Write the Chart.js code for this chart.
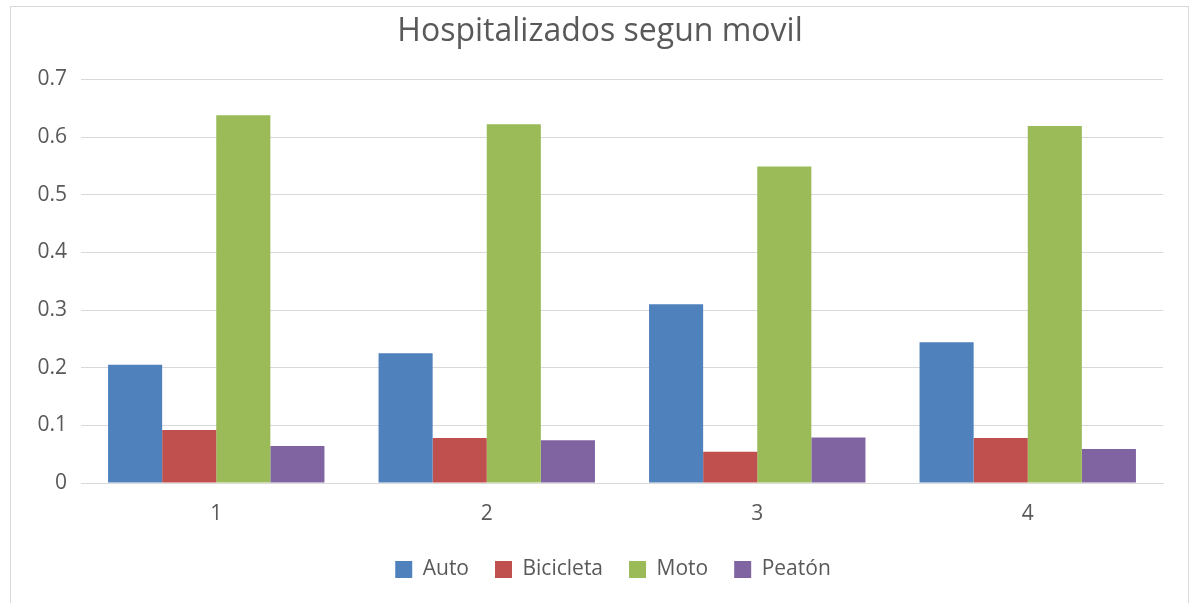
<!DOCTYPE html>
<html>
<head>
<meta charset="utf-8">
<script src="https://cdn.jsdelivr.net/npm/chart.js@4.4.1/dist/chart.umd.min.js"></script>
<style>
    html, body { margin: 0; padding: 0; background: #ffffff; overflow: hidden; }
    .frame {
        position: absolute; left: 10px; top: 6px;
        width: 1177px; height: 640px;
        border: 1px solid #d9d9d9;
    }
    #hospChart { position: absolute; left: 0; top: 0; }
</style>
</head>
<body>
<div class="frame"></div>
<canvas id="hospChart" width="1191" height="603"></canvas>
<script>
// Chart data
const categories = ['1', '2', '3', '4'];
const seriesNames = ['Auto', 'Bicicleta', 'Moto', 'Peatón'];
const autoValues = [0.205, 0.225, 0.31, 0.244];
const bicicletaValues = [0.092, 0.078, 0.054, 0.078];
const motoValues = [0.638, 0.622, 0.549, 0.619];
const peatonValues = [0.064, 0.074, 0.079, 0.059];
const yTicks = [0, 0.1, 0.2, 0.3, 0.4, 0.5, 0.6, 0.7];

const seriesColors = ['#4F81BD', '#C0504D', '#9BBB59', '#8064A2'];
const textColor = '#595959';
const fontFamily = '"Open Sans", "Noto Sans", sans-serif';

// nudge the legend a bit to the right, like the original
const legendShift = {
    id: 'legendShift',
    afterLayout(chart) {
        chart.legend.left += 13;
        chart.legend.right += 13;
    }
};

function initChart() {
    const ctx = document.getElementById('hospChart').getContext('2d');
    const values = [autoValues, bicicletaValues, motoValues, peatonValues];

    new Chart(ctx, {
        type: 'bar',
        data: {
            labels: categories,
            datasets: seriesNames.map((name, i) => ({
                label: name,
                data: values[i],
                backgroundColor: seriesColors[i],
                borderWidth: 0,
                categoryPercentage: 0.8,
                barPercentage: 1.0
            }))
        },
        options: {
            responsive: false,
            animation: false,
            layout: {
                padding: { left: 37, right: 28, top: 13, bottom: 13 }
            },
            plugins: {
                title: {
                    display: true,
                    text: 'Hospitalizados segun movil',
                    color: textColor,
                    font: { family: fontFamily, size: 32, weight: 'normal' },
                    padding: { top: 0, bottom: 28 }
                },
                legend: {
                    position: 'bottom',
                    labels: {
                        color: textColor,
                        font: { family: fontFamily, size: 21 },
                        boxWidth: 17,
                        boxHeight: 17,
                        padding: 26
                    }
                },
                tooltip: { enabled: false }
            },
            scales: {
                x: {
                    grid: { display: false, drawTicks: false },
                    border: { display: true, color: '#d9d9d9' },
                    ticks: {
                        color: textColor,
                        font: { family: fontFamily, size: 21 },
                        padding: 18
                    },
                    afterFit: scale => { scale.height = 50; }
                },
                y: {
                    min: 0,
                    max: 0.7,
                    grid: { color: '#d9d9d9', drawTicks: false },
                    border: { display: false },
                    afterBuildTicks: scale => {
                        scale.ticks = yTicks.map(v => ({ value: v }));
                    },
                    ticks: {
                        color: textColor,
                        font: { family: fontFamily, size: 21 },
                        padding: 14,
                        callback: v => String(Math.round(v * 10) / 10)
                    },
                    afterFit: scale => { scale.width = 44; }
                }
            }
        },
        plugins: [legendShift]
    });
}

document.addEventListener('DOMContentLoaded', initChart);
</script>
</body>
</html>
